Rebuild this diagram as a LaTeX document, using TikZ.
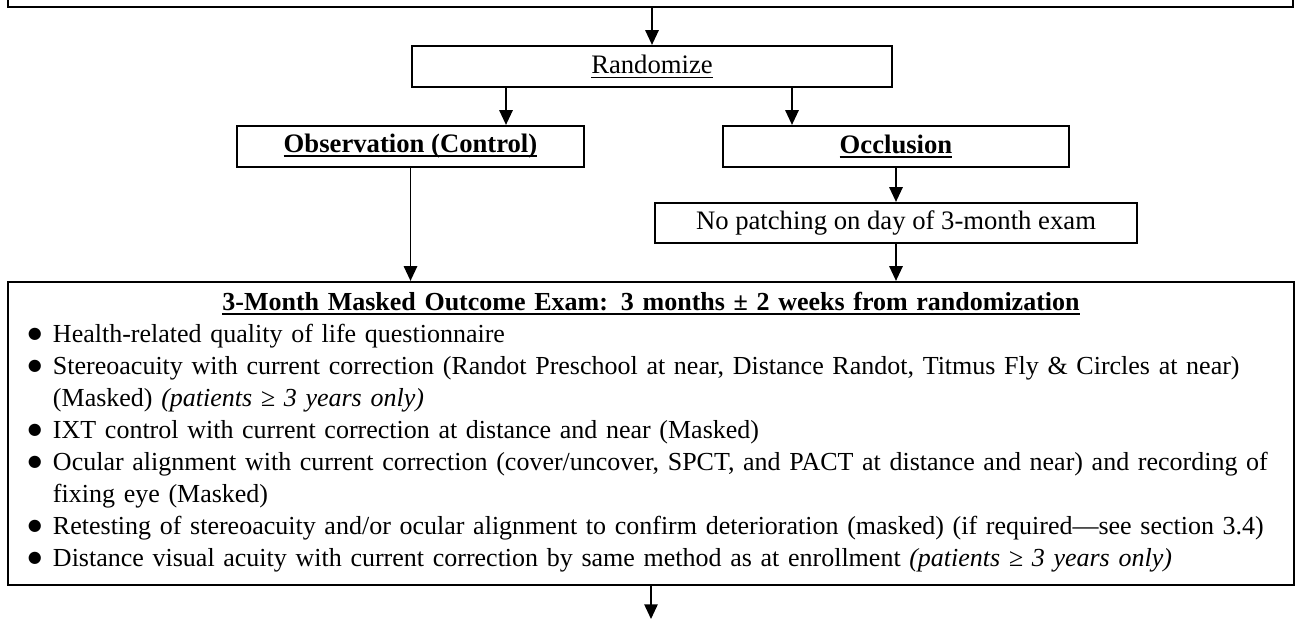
\documentclass[tikz,border=0pt]{standalone}
\usepackage{fontspec}
\setmainfont{Liberation Serif}
\newfontfamily\dotfont{DejaVu Sans}
\usetikzlibrary{arrows.meta,positioning,calc}

\newcommand{\undl}[2][0.6pt]{\setbox0\hbox{#2}\rlap{\rule[-2pt]{\wd0}{#1}}\box0}
\newcommand{\bul}[1]{\par\noindent\hangindent=17.55pt\hangafter=1\makebox[17.55pt][l]{\hspace{6.2pt}\raisebox{1.7pt}{\dotfont\fontsize{7.2}{7}\selectfont ●}}#1\par}

\tikzset{
  box/.style={draw, line width=1pt, inner sep=0pt, align=center, font=\fontsize{12}{14.4}\selectfont},
  arr/.style={-{Triangle[width=6pt,length=6.6pt]}, line width=0.7pt},
}

\begin{document}
\begin{tikzpicture}[x=0.45pt, y=-0.45pt]
    \useasboundingbox (0,0) rectangle (1296,619);

    % box above (only its lower edge shows)
    \node[box, minimum width=578.25pt, minimum height=40pt, anchor=south] (prior) at (650.5,8) {};

    % randomize
    \node[box, minimum width=216pt, minimum height=18.45pt] (rand) at (652,66.5) {\undl{Randomize}};

    % the two groups
    \node[box, minimum width=156.15pt, minimum height=18.45pt] (obs) at (410.5,146.5) {\undl[1pt]{\textbf{Observation (Control)}}};
    \node[box, minimum width=155.7pt, minimum height=18.45pt] (occ) at (896,146.5) {\undl[1pt]{\textbf{Occlusion}}};
    \node[box, minimum width=216.9pt, minimum height=18pt] (nopatch) at (896,223) {No patching on day of 3-month exam};

    % outcome exam
    \node[box, minimum width=578.7pt, minimum height=136.35pt] (exam) at (651,433.5) {};
    \node[anchor=north, inner sep=0pt, text width=573.3pt, align=left, font=\fontsize{11.7}{14.4}\selectfont] (examtext) at ([yshift=-3pt]exam.north) {%
      {\noindent\centering\strut\undl[1pt]{\textbf{3-Month Masked Outcome Exam: 3 months ± 2 weeks from randomization}}\par}
      \bul{Health-related quality of life questionnaire}
      \bul{Stereoacuity with current correction (Randot Preschool at near, Distance Randot, Titmus Fly \& Circles at near)\newline(Masked) \textit{(patients ≥ 3 years only)}}
      \bul{IXT control with current correction at distance and near (Masked)}
      \bul{Ocular alignment with current correction (cover/uncover, SPCT, and PACT at distance and near) and recording of\newline fixing eye (Masked)}
      \bul{Retesting of stereoacuity and/or ocular alignment to confirm deterioration (masked) (if required---see section 3.4)}
      \bul{Distance visual acuity with current correction by same method as at enrollment \textit{(patients ≥ 3 years only)}}
    };
    \coordinate (next) at (651,619);
    \coordinate (splitl) at ([xshift=-65.7pt]rand.south);
    \coordinate (splitr) at ([xshift=63pt]rand.south);

    % arrows
    \draw[arr] (rand.north |- prior.south) -- (rand.north);
    \draw[arr] (splitl) -- (splitl |- obs.north);
    \draw[arr] (splitr) -- (splitr |- occ.north);
    \draw[arr] (obs.south) -- (obs.south |- exam.north);
    \draw[arr] (occ.south) -- (nopatch.north);
    \draw[arr] (nopatch.south) -- (nopatch.south |- exam.north);
    \draw[arr] (exam.south) -- (next);
\end{tikzpicture}
\end{document}
